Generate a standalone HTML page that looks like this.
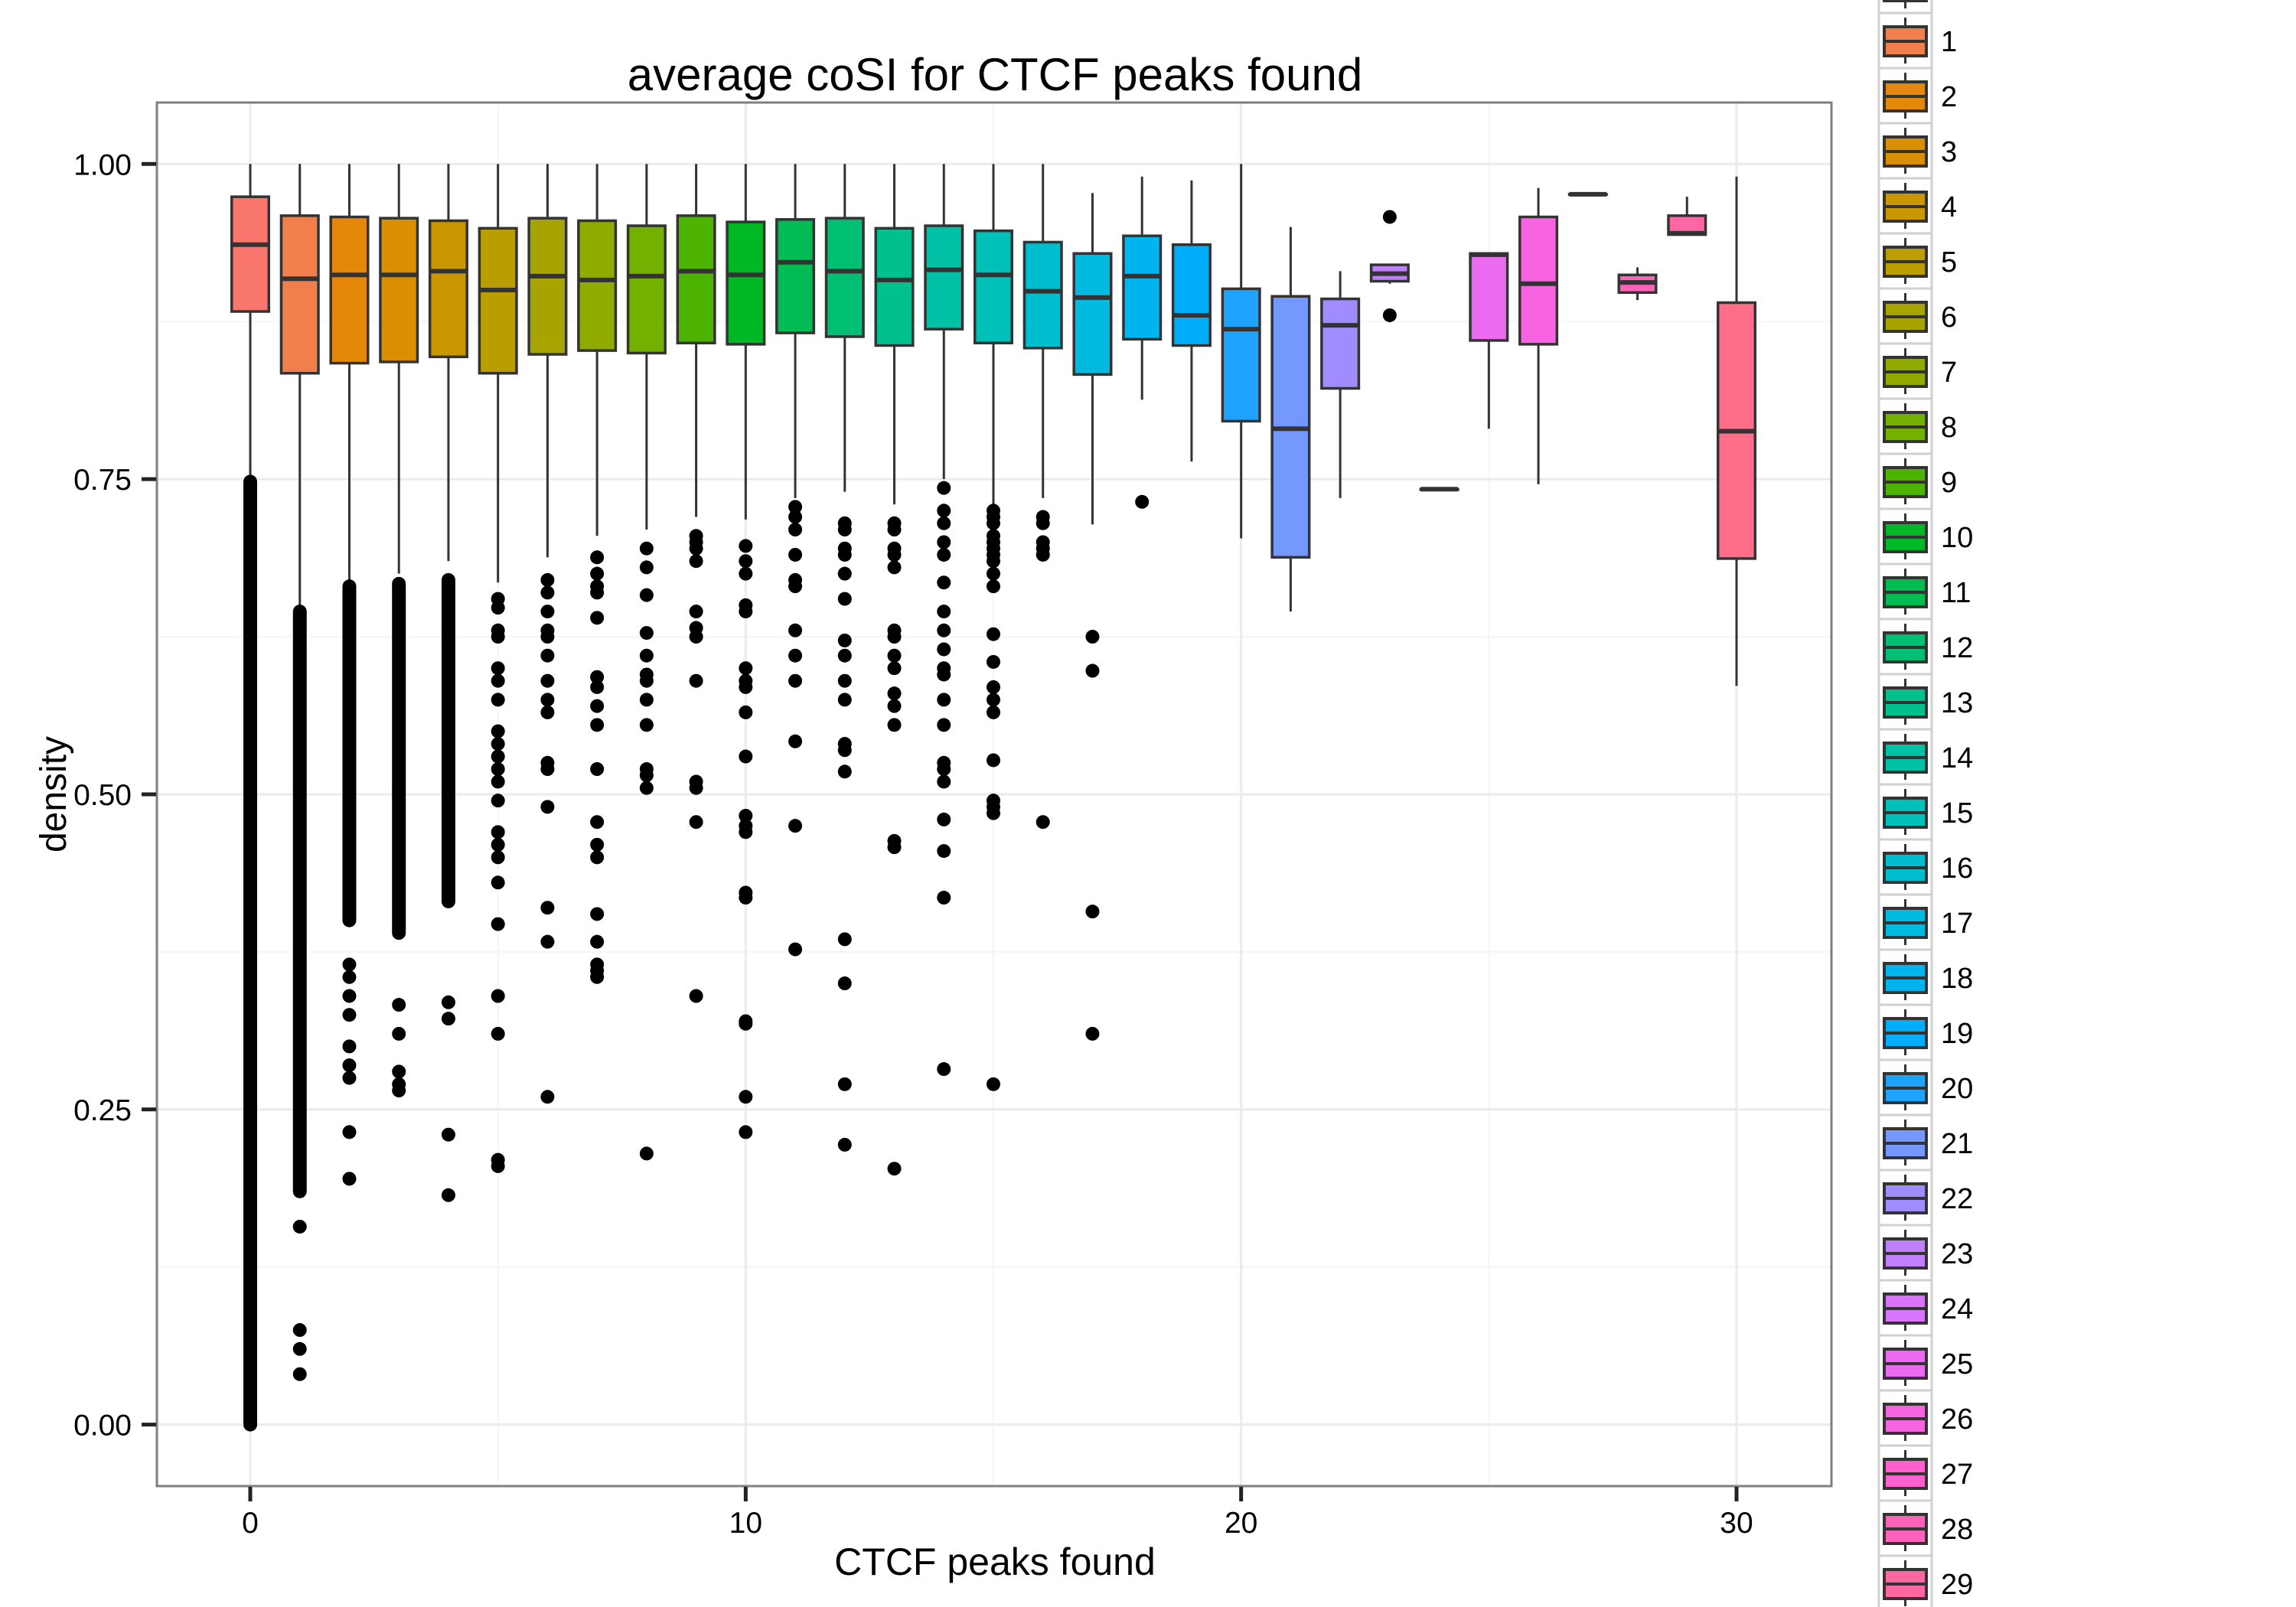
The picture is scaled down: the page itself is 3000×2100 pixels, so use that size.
<!DOCTYPE html>
<html><head><meta charset="utf-8"><style>
html,body{margin:0;padding:0;background:#fff}
svg{display:block}
text{font-family:"Liberation Sans",sans-serif}
</style></head><body>
<svg id="chart" width="3000" height="2100" viewBox="0 0 3000 2100" xmlns="http://www.w3.org/2000/svg">
<rect width="3000" height="2100" fill="#fff"/>
<g id="grid"></g>
<g id="marks"></g>
<rect x="205" y="134" width="2188" height="1808" fill="none" stroke="#7f7f7f" stroke-width="3"/>
<g id="axes"></g>
<text x="1300" y="118" font-size="60" text-anchor="middle">average coSI for CTCF peaks found</text>
<text x="1300" y="2058" font-size="50" text-anchor="middle">CTCF peaks found</text>
<text x="0" y="0" font-size="48" text-anchor="middle" transform="translate(86,1038) rotate(-90)">density</text>
<g id="legend"></g>
</svg>
<script>
// ---- data ----
const categories = [0,1,2,3,4,5,6,7,8,9,10,11,12,13,14,15,16,17,18,19,20,21,22,23,24,25,26,27,28,29,30];
const whiskerHigh = [1.0,1.0,1.0,1.0,1.0,1.0,1.0,1.0,1.0,1.0,1.0,1.0,1.0,1.0,1.0,1.0,1.0,0.977,0.990,0.987,1.0,0.950,0.915,0.915,0.742,0.929,0.981,0.976,0.918,0.974,0.990];
const q3 = [0.974,0.959,0.958,0.957,0.955,0.949,0.957,0.955,0.951,0.959,0.954,0.956,0.957,0.949,0.951,0.947,0.938,0.929,0.943,0.936,0.901,0.895,0.893,0.920,0.742,0.929,0.958,0.976,0.912,0.959,0.890];
const medians = [0.936,0.909,0.912,0.912,0.915,0.900,0.911,0.908,0.911,0.915,0.912,0.922,0.915,0.908,0.916,0.912,0.899,0.894,0.911,0.880,0.869,0.790,0.872,0.913,0.742,0.928,0.905,0.976,0.906,0.945,0.788];
const q1 = [0.883,0.834,0.842,0.843,0.847,0.834,0.849,0.852,0.850,0.858,0.857,0.866,0.863,0.856,0.869,0.858,0.854,0.833,0.861,0.856,0.796,0.688,0.822,0.907,0.742,0.860,0.857,0.976,0.898,0.944,0.687];
const whiskerLow = [0.750,0.646,0.669,0.675,0.685,0.668,0.688,0.705,0.710,0.720,0.718,0.735,0.740,0.730,0.750,0.730,0.735,0.714,0.813,0.764,0.703,0.645,0.735,0.905,0.742,0.790,0.746,0.976,0.892,0.944,0.586];
// dense outlier runs: [category, low, high]
const outlierRunCats = [0,1,2,3,4];
const outlierRunLow = [0.0,0.185,0.40,0.39,0.415];
const outlierRunHigh = [0.748,0.645,0.665,0.667,0.67];
const outliers = {
 1:[0.157,0.075,0.06,0.04],
 2:[0.365,0.355,0.34,0.325,0.30,0.285,0.275,0.232,0.195],
 3:[0.333,0.31,0.28,0.27,0.265],
 4:[0.335,0.322,0.23,0.182],
 5:[0.655,0.648,0.63,0.625,0.60,0.59,0.575,0.55,0.54,0.53,0.52,0.51,0.495,0.47,0.46,0.45,0.43,0.397,0.34,0.31,0.21,0.205],
 6:[0.67,0.66,0.645,0.63,0.625,0.61,0.59,0.575,0.565,0.525,0.52,0.49,0.41,0.383,0.26],
 7:[0.688,0.675,0.665,0.66,0.64,0.593,0.585,0.57,0.555,0.52,0.478,0.46,0.45,0.405,0.383,0.365,0.36,0.355],
 8:[0.695,0.68,0.658,0.628,0.61,0.595,0.59,0.575,0.555,0.52,0.515,0.505,0.215],
 9:[0.705,0.7,0.695,0.685,0.645,0.632,0.625,0.59,0.51,0.505,0.478,0.34],
 10:[0.697,0.685,0.675,0.65,0.645,0.6,0.59,0.585,0.565,0.53,0.483,0.475,0.47,0.422,0.418,0.32,0.318,0.26,0.232],
 11:[0.728,0.72,0.71,0.69,0.67,0.665,0.63,0.61,0.59,0.542,0.475,0.377],
 12:[0.715,0.71,0.695,0.69,0.675,0.655,0.622,0.61,0.59,0.575,0.54,0.535,0.518,0.385,0.35,0.27,0.222],
 13:[0.715,0.71,0.695,0.69,0.68,0.63,0.625,0.61,0.6,0.58,0.57,0.555,0.463,0.458,0.203],
 14:[0.743,0.725,0.715,0.7,0.69,0.668,0.645,0.63,0.615,0.6,0.595,0.575,0.555,0.525,0.52,0.51,0.48,0.455,0.418,0.282],
 15:[0.725,0.72,0.715,0.705,0.7,0.695,0.69,0.685,0.675,0.665,0.627,0.605,0.585,0.575,0.565,0.527,0.495,0.49,0.485,0.27],
 16:[0.72,0.715,0.7,0.695,0.69,0.478],
 17:[0.625,0.598,0.407,0.31],
 18:[0.732],
 23:[0.958,0.880]
};
const xTicks = [0,10,20,30];
const xTickLabels = ["0","10","20","30"];
const yTicks = [0,0.25,0.5,0.75,1.0];
const yTickLabels = ["0.00","0.25","0.50","0.75","1.00"];
const xMinor = [5,15,25];
const yMinor = [0.125,0.375,0.625,0.875];

// ---- scales ----
const X0 = 327, XU = (2269-327)/30;
const Y0 = 1861.6, YU = (1861.6-214.3);
function sx(v){return X0 + v*XU;}
function sy(v){return Y0 - v*YU;}
const NS = "http://www.w3.org/2000/svg";
function mk(tag, attrs, parent){const e=document.createElementNS(NS,tag);for(const k in attrs)e.setAttribute(k,attrs[k]);parent.appendChild(e);return e;}

function hcl(h,c,l){
  const hr=h*Math.PI/180, U=c*Math.cos(hr), V=c*Math.sin(hr);
  const Xn=0.95047,Yn=1,Zn=1.08883;
  const un=4*Xn/(Xn+15*Yn+3*Zn), vn=9*Yn/(Xn+15*Yn+3*Zn);
  const Y = l>8 ? Math.pow((l+16)/116,3) : l/903.3;
  const u=U/(13*l)+un, v=V/(13*l)+vn;
  const X=Y*9*u/(4*v), Z=Y*(12-3*u-20*v)/(4*v);
  const lin=[3.2406*X-1.5372*Y-0.4986*Z,-0.9689*X+1.8758*Y+0.0415*Z,0.0557*X-0.2040*Y+1.0570*Z];
  const g=lin.map(x=>{x=Math.max(0,Math.min(1,x));x=x<=0.0031308?12.92*x:1.055*Math.pow(x,1/2.4)-0.055;return Math.round(x*255);});
  return "rgb("+g.join(",")+")";
}
const n = categories.length;
function colorFor(i){return hcl(15+i*360/n,100,65);}

// ---- grid ----
const grid=document.getElementById('grid');
xMinor.forEach(v=>{const l=mk('line',{x1:sx(v),x2:sx(v),y1:134,y2:1942,stroke:'#f5f5f5','stroke-width':2},grid);

});
yMinor.forEach(v=>{const l=mk('line',{x1:205,x2:2393,y1:sy(v),y2:sy(v),stroke:'#f5f5f5','stroke-width':2},grid);

});
xTicks.forEach(v=>{const l=mk('line',{x1:sx(v),x2:sx(v),y1:134,y2:1942,stroke:'#ebebeb','stroke-width':3},grid);

});
yTicks.forEach(v=>{const l=mk('line',{x1:205,x2:2393,y1:sy(v),y2:sy(v),stroke:'#ebebeb','stroke-width':3},grid);

});

// ---- axes ----
const axes=document.getElementById('axes');
xTicks.forEach((v,i)=>{
  const t=mk('line',{x1:sx(v),x2:sx(v),y1:1943,y2:1962,stroke:'#222','stroke-width':5},axes);
  
  
  const tx=mk('text',{x:sx(v),y:2003,'font-size':39,'text-anchor':'middle',fill:'#000'},axes);
  tx.textContent=xTickLabels[i];
  
  
});
yTicks.forEach((v,i)=>{
  const t=mk('line',{x1:185,x2:204,y1:sy(v),y2:sy(v),stroke:'#222','stroke-width':5},axes);
  
  
  const tx=mk('text',{x:172,y:sy(v)+14,'font-size':39,'text-anchor':'end',fill:'#000'},axes);
  tx.textContent=yTickLabels[i];
  
  
});

// ---- marks ----
const marks=document.getElementById('marks');
const BW = 0.75*XU/2;
categories.forEach((c,i)=>{
  const g=mk('g',{},marks);
  
  
  const cx=sx(c);
  mk('line',{x1:cx,x2:cx,y1:sy(whiskerHigh[i]),y2:sy(q3[i]),stroke:'#333','stroke-width':3},g);
  mk('line',{x1:cx,x2:cx,y1:sy(q1[i]),y2:sy(whiskerLow[i]),stroke:'#333','stroke-width':3},g);
  mk('rect',{x:cx-BW,y:sy(q3[i]),width:2*BW,height:Math.max(0.5,sy(q1[i])-sy(q3[i])),fill:colorFor(i),stroke:'#333','stroke-width':3.5},g);
  mk('line',{x1:cx-BW,x2:cx+BW,y1:sy(medians[i]),y2:sy(medians[i]),stroke:'#333','stroke-width':6},g);
});
outlierRunCats.forEach((c,i)=>{
  const l=mk('line',{x1:sx(c),x2:sx(c),y1:sy(outlierRunLow[i]),y2:sy(outlierRunHigh[i]),stroke:'#000','stroke-width':18,'stroke-linecap':'round'},marks);
  
  
});
Object.keys(outliers).forEach(k=>{
  outliers[k].forEach(v=>{
    const p=mk('circle',{cx:sx(+k),cy:sy(v),r:9,fill:'#000'},marks);
    
    
  });
});

// ---- legend ----
const leg=document.getElementById('legend');
categories.forEach((c,i)=>{
  const top=17+(c-1)*72;
  if(top>2100) return;
  const g=mk('g',{},leg);
  
  
  mk('rect',{x:2455,y:top,width:69,height:72,fill:'#fff',stroke:'#d0d0d0','stroke-width':3},g);
  const cx=2489.5;
  mk('line',{x1:cx,x2:cx,y1:top+6,y2:top+66,stroke:'#333','stroke-width':3},g);
  mk('rect',{x:2462,y:top+18,width:55,height:38,fill:colorFor(i),stroke:'#333','stroke-width':4},g);
  mk('line',{x1:2462,x2:2517,y1:top+37,y2:top+37,stroke:'#333','stroke-width':4},g);
  const t=mk('text',{x:2536,y:top+50,'font-size':38,fill:'#000'},g);
  t.textContent=String(c);
});
</script>
</body></html>
